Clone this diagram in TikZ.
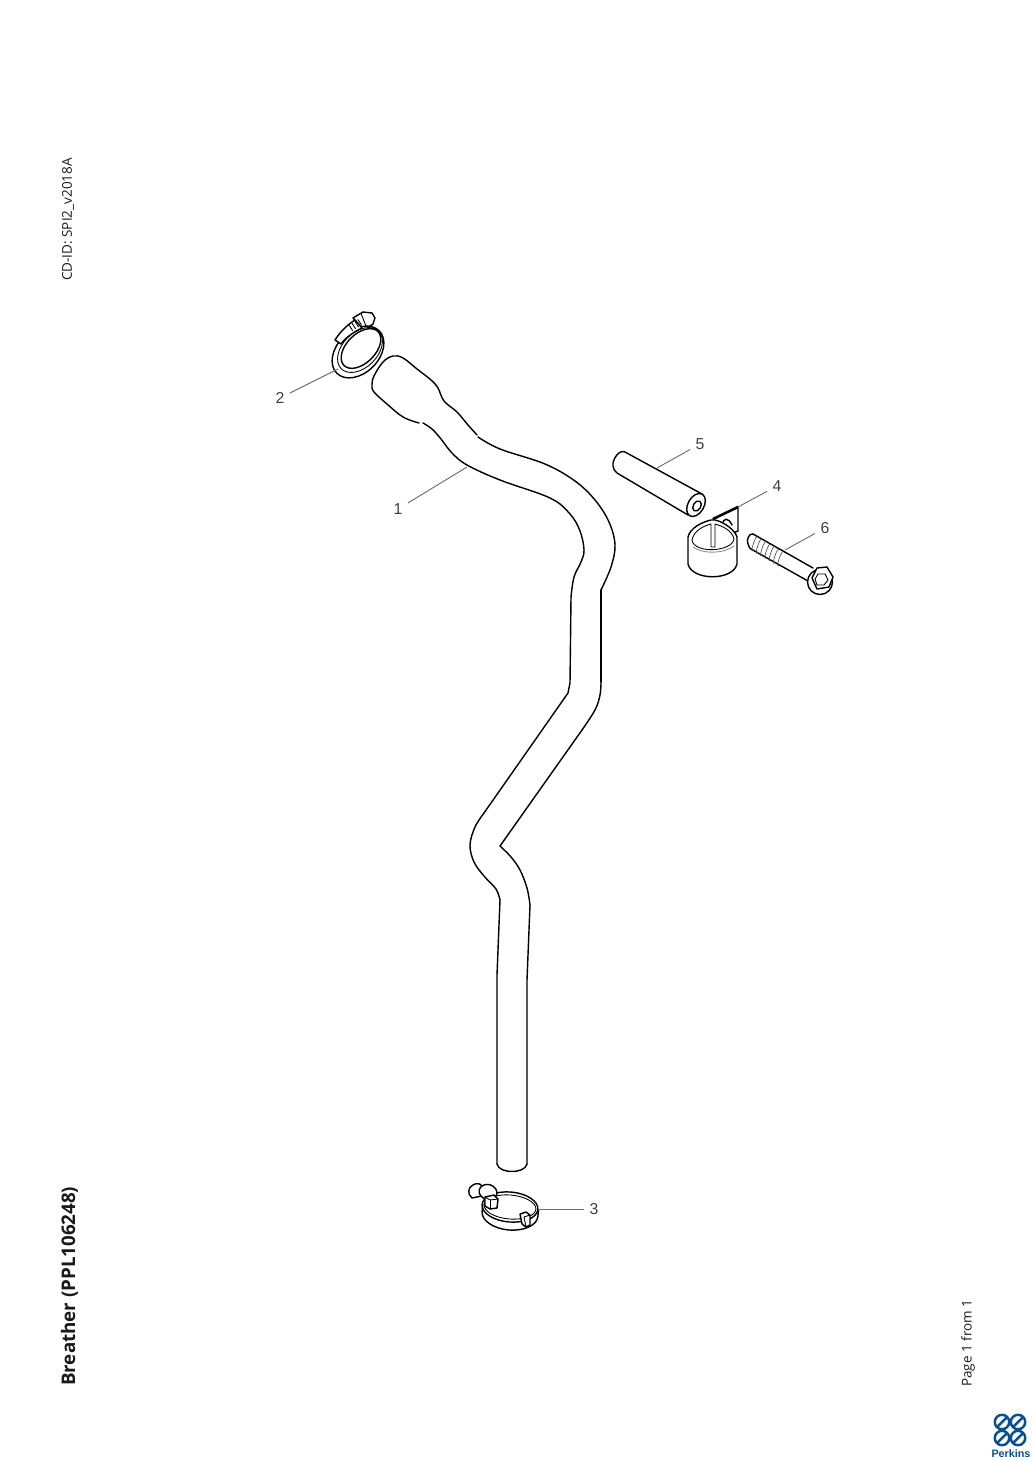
\documentclass[tikz,border=0pt]{standalone}
\usepackage{fontspec}
\setmainfont{Open Sans}
\newfontfamily\arialf{Liberation Sans}
\usetikzlibrary{calc}
\definecolor{perkblue}{HTML}{0B4F8C}
\definecolor{leadergray}{HTML}{6E6E6E}
\tikzset{
  part/.style={line width=1.2pt,black,line join=round,line cap=round},
  thin part/.style={line width=.75pt,black,line join=round,line cap=round},
  thread/.style={line width=.55pt,black!70,line cap=round},
  whitefill/.style={part,fill=white},
  leader/.style={line width=.8pt,leadergray},
  partno/.style={font=\arialf\fontsize{13.5}{15}\selectfont,text=black!75,inner sep=4.5pt},
  sidetext/.style={rotate=90,inner sep=0pt,anchor=west,text=black!90},
  logoring/.style={line width=2.1pt,perkblue}
}
\begin{document}
\begin{tikzpicture}[x=0.03cm,y=-0.03cm]
\useasboundingbox[fill=white] (0,0) rectangle (1033,1461);

% side texts
\node[sidetext,font=\fontsize{11.5}{13}\selectfont] (cdid) at (68,281) {CD-ID: SPI2\_v2018A};
\node[sidetext,font=\bfseries\fontsize{16}{18}\selectfont] (title) at (69.5,1386) {Breather (PPL106248)};
\node[sidetext,font=\fontsize{11.5}{13}\selectfont] (page) at (968,1387) {Page 1 from 1};

% hose 1
\draw[part] plot[smooth,tension=.6] coordinates {(423,423)(432,429)(441,439)(452,453)(467,465)(500,480)(550,498)(570,514)(580,531)(584,550)(581,562)(574,577)(571,597)};
\draw[part] (571,597) -- (570,683) -- (568,693) -- (484,813);
\draw[part] plot[smooth,tension=.6] coordinates {(484,813)(475,827)(470,845)(474,862)(484,876)(496,889)(500,900)};
\draw[part] (500,900) -- (497,975) -- (497,1164);
\draw[part] (497,1164) .. controls (499,1174) and (525,1174) .. (527,1164);
\draw[part] (527,1164) -- (527,980) -- (530,905);
\draw[part] plot[smooth,tension=.6] coordinates {(530,905)(527,888)(520,870)(511,857)(500,846)};
\draw[part] (500,846) -- (582,730);
\draw[part] plot[smooth,tension=.6] coordinates {(582,730)(595,710)(600,695)(601,682)};
\draw[part] (601,682) -- (601,590);
\draw[part] plot[smooth,tension=.6] coordinates {(601,590)(611,567)(615,545)(609,522)(595,500)(575,481)(545,464)(500,449)(478,437)};
\draw[part] plot[smooth,tension=.6] coordinates {(477,435)(468,425)(457,412)(444,401)(438,388)(431,380)(417,369)(403,358)(393,356)(383,362)(374,376)(372,385)(374,392)(387,404)(403,417)(419,423)};

% clamp 2
\draw[whitefill] (353,318) -- (363,312) -- (372,313) -- (375,318) -- (373,324) -- (364,330) -- cycle;
\draw[thin part] (361,313.5) -- (366,326);
\draw[part,fill=white,shift={(358,352)},rotate=45] (0,0) ellipse (30 and 21);
\draw[whitefill] (335,340) .. controls (340,332) and (347,325) .. (355,320) -- (362,328) .. controls (354,332) and (346,337) .. (341,344) -- cycle;
\foreach \i in {0,1,2,3} \draw[thin part] ($(349,325)+(\i*3,-\i*1.8)$) -- ++(3.5,5.5);
\draw[thin part,shift={(360,350)},rotate=45] (0,0) ellipse (26.5 and 17.5);
\draw[part,shift={(361,348.5)},rotate=45] (0,0) ellipse (24 and 14.5);

% tube 5
\draw[part] (702,494) -- (625,452) .. controls (619,449) and (612,460) .. (613,466) .. controls (613,469) and (615,471) .. (617,473) -- (688,515);
\draw[whitefill,shift={(696,505)},rotate=60] (0,0) ellipse (12.5 and 8);
\draw[part,shift={(697,506)},rotate=60] (0,0) ellipse (5.5 and 3.8);

% bracket 4
\draw[part] (713,519) -- (738,507) -- (738,531) -- (733,533);
\draw[line width=2.2pt,black] (713,519) -- (738,507);
\draw[part] (722,524) .. controls (724,518) and (728,517) .. (732,525);
\draw[whitefill] (688,537) .. controls (690,528) and (702,522) .. (711,520) -- (715,520) .. controls (724,522) and (735,530) .. (737,537) -- (737,564) .. controls (733,581) and (692,581) .. (688,564) -- cycle;
\draw[thin part,fill=white] (692,540) .. controls (694,530) and (704,526) .. (711,524) -- (711,547) -- (715,547) -- (715,524) .. controls (722,526) and (732,530) .. (734,539) .. controls (732,552) and (694,554) .. (692,540) -- cycle;
\draw[thin part,black!45] (693,547) .. controls (702,554) and (724,554) .. (734,546);

% bolt 6
\draw[part] (753,534) -- (813,568);
\draw[part] (751,549) -- (808,581);
\draw[part] (753,534) .. controls (749,533) and (746,540) .. (748,544) .. controls (749,547) and (750,549) .. (751,549);
\foreach \i in {0,1,2,3,4,5,6}
  \draw[thread] ($(757,536.5)+(\i*4.3,\i*2.5)$) .. controls +(-3,2) and +(-4,6) .. ++(-3.5,13);
\draw[whitefill] (820,582) circle (12.5);
\draw[part,fill=white] (817,568) -- (827,567) -- (833,577) -- (829,587) -- (817,589) -- (812,578) -- cycle;
\draw[thin part] (818,574) -- (825,574) -- (828,580) -- (824,585) -- (817,585) -- (815,579) -- cycle;

% clamp 3
\draw[part,shift={(510,1207)},rotate=-5] (0,0) ellipse (28 and 15);
\draw[thin part,shift={(510,1207)},rotate=-5] (0,0) ellipse (26 and 12);
\draw[part,shift={(510,1214)},rotate=-5] (28,-7) -- (28,0) arc (0:180:28 and 16) -- (-28,-7);
\draw[whitefill] (473,1185) .. controls (468,1187) and (467,1194) .. (472,1198) -- (482,1196) -- (482,1186) .. controls (480,1183) and (476,1183) .. (473,1185) -- cycle;
\draw[whitefill,shift={(488,1192)},rotate=-15] (0,0) ellipse (9 and 7.5);
\draw[whitefill] (485,1197) -- (494,1195) -- (498,1199) -- (497,1208) -- (490,1209) -- (485,1206) -- cycle;
\draw[thin part] (485,1197) -- (490,1200) -- (498,1199);
\draw[thin part] (490,1200) -- (490,1209);
\draw[whitefill] (520,1214) -- (526,1212) -- (530,1215) -- (530,1225) -- (526,1227) -- (522,1224) -- cycle;
\draw[thin part] (524,1217) -- (530,1215);
\draw[thin part] (524,1217) -- (526,1227);

% leaders and part numbers
\coordinate (p1) at (467,467);
\coordinate (p2) at (338,369);
\coordinate (p3) at (538,1209);
\coordinate (p4) at (738,507);
\coordinate (p5) at (657,468);
\coordinate (p6) at (785,550);
\node[partno] (n1) at (398,509) {1};
\node[partno] (n2) at (280,398) {2};
\node[partno] (n3) at (594,1209) {3};
\node[partno] (n4) at (777,486) {4};
\node[partno] (n5) at (700,444) {5};
\node[partno] (n6) at (825,528) {6};
\draw[leader] (n1) -- (p1);
\draw[leader] (n2) -- (p2);
\draw[leader] (n3) -- (p3);
\draw[leader] (n4) -- (p4);
\draw[leader] (n5) -- (p5);
\draw[leader] (n6) -- (p6);

% logo
\foreach \c/\d in {1002/1422,1018/1422,1002/1438,1018/1438}{
  \draw[logoring] (\c,\d) circle (7.2);
  \draw[logoring] (\c-5.2,\d+5.2) -- (\c+5.2,\d-5.2);
}
\node[inner sep=0pt,font=\arialf\bfseries\fontsize{9.2}{10}\selectfont,text=perkblue] (logotext) at (1011,1454) {Perkins};
\end{tikzpicture}
\end{document}
